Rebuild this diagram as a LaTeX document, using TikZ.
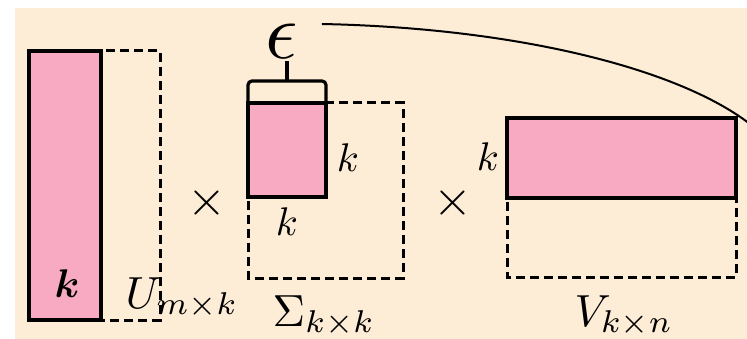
\documentclass[tikz,border=0pt]{standalone}
\usepackage{bm}
\definecolor{bgbeige}{RGB}{253,236,214}
\definecolor{matpink}{RGB}{249,170,195}
\begin{document}
\begin{tikzpicture}[x=1pt,y=-1pt,
  solidbox/.style={draw=black,line width=3.4pt,fill=matpink},
  dashbox/.style={draw=black,line width=3pt,dash pattern=on 9pt off 5pt},
  biglabel/.style={inner sep=0pt,scale=4.5},
  klabel/.style={inner sep=0pt,scale=4.0},
  timeslabel/.style={inner sep=0pt,scale=5.0}]
\useasboundingbox (0,0) rectangle (747,339);
\fill[bgbeige] (15,8) rectangle (747,339);
% U
\draw[dashbox] (29,51) rectangle (160,320);
\draw[solidbox] (29,51) rectangle (101,320);
\node[inner sep=0pt,scale=4.0] (kU) at (67,284) {$\bm{k}$};
\node[biglabel] (lU) at (182,298) {$U_{m\times k}$};
% times
\node[timeslabel] (x1) at (207,203) {$\times$};
\node[timeslabel] (x2) at (453,203) {$\times$};
% Sigma
\draw[dashbox] (248,103) rectangle (403,278);
\draw[solidbox] (248,103) rectangle (326,197);
\node[klabel] (kS1) at (348,158) {$k$};
\node[klabel] (kS2) at (287,222) {$k$};
\node[biglabel] (lS) at (324,316) {$\Sigma_{k\times k}$};
% brace and epsilon
\draw[line width=3.2pt,rounded corners=4pt] (248,101) -- (248,81) -- (326,81) -- (326,101);
\coordinate (bt) at (287,81);
\node[inner sep=0pt,scale=8] (eps) at (282,41) {$\epsilon$};
\draw[line width=3.2pt] (bt) -- (287,61);
% V
\draw[dashbox] (507,118) rectangle (736,277);
\draw[solidbox] (507,118) rectangle (736,198);
\node[klabel] (kV) at (488,157) {$k$};
\node[biglabel] (lV) at (624,316) {$V_{k\times n}$};
% curve
\coordinate (cend) at (755,128);
\begin{scope}
\clip (15,8) rectangle (747,339);
\draw[line width=2pt] ([xshift=22pt,yshift=17pt]eps.east) .. controls (520,28) and (685,70) .. (cend);
\end{scope}
\end{tikzpicture}
\end{document}
